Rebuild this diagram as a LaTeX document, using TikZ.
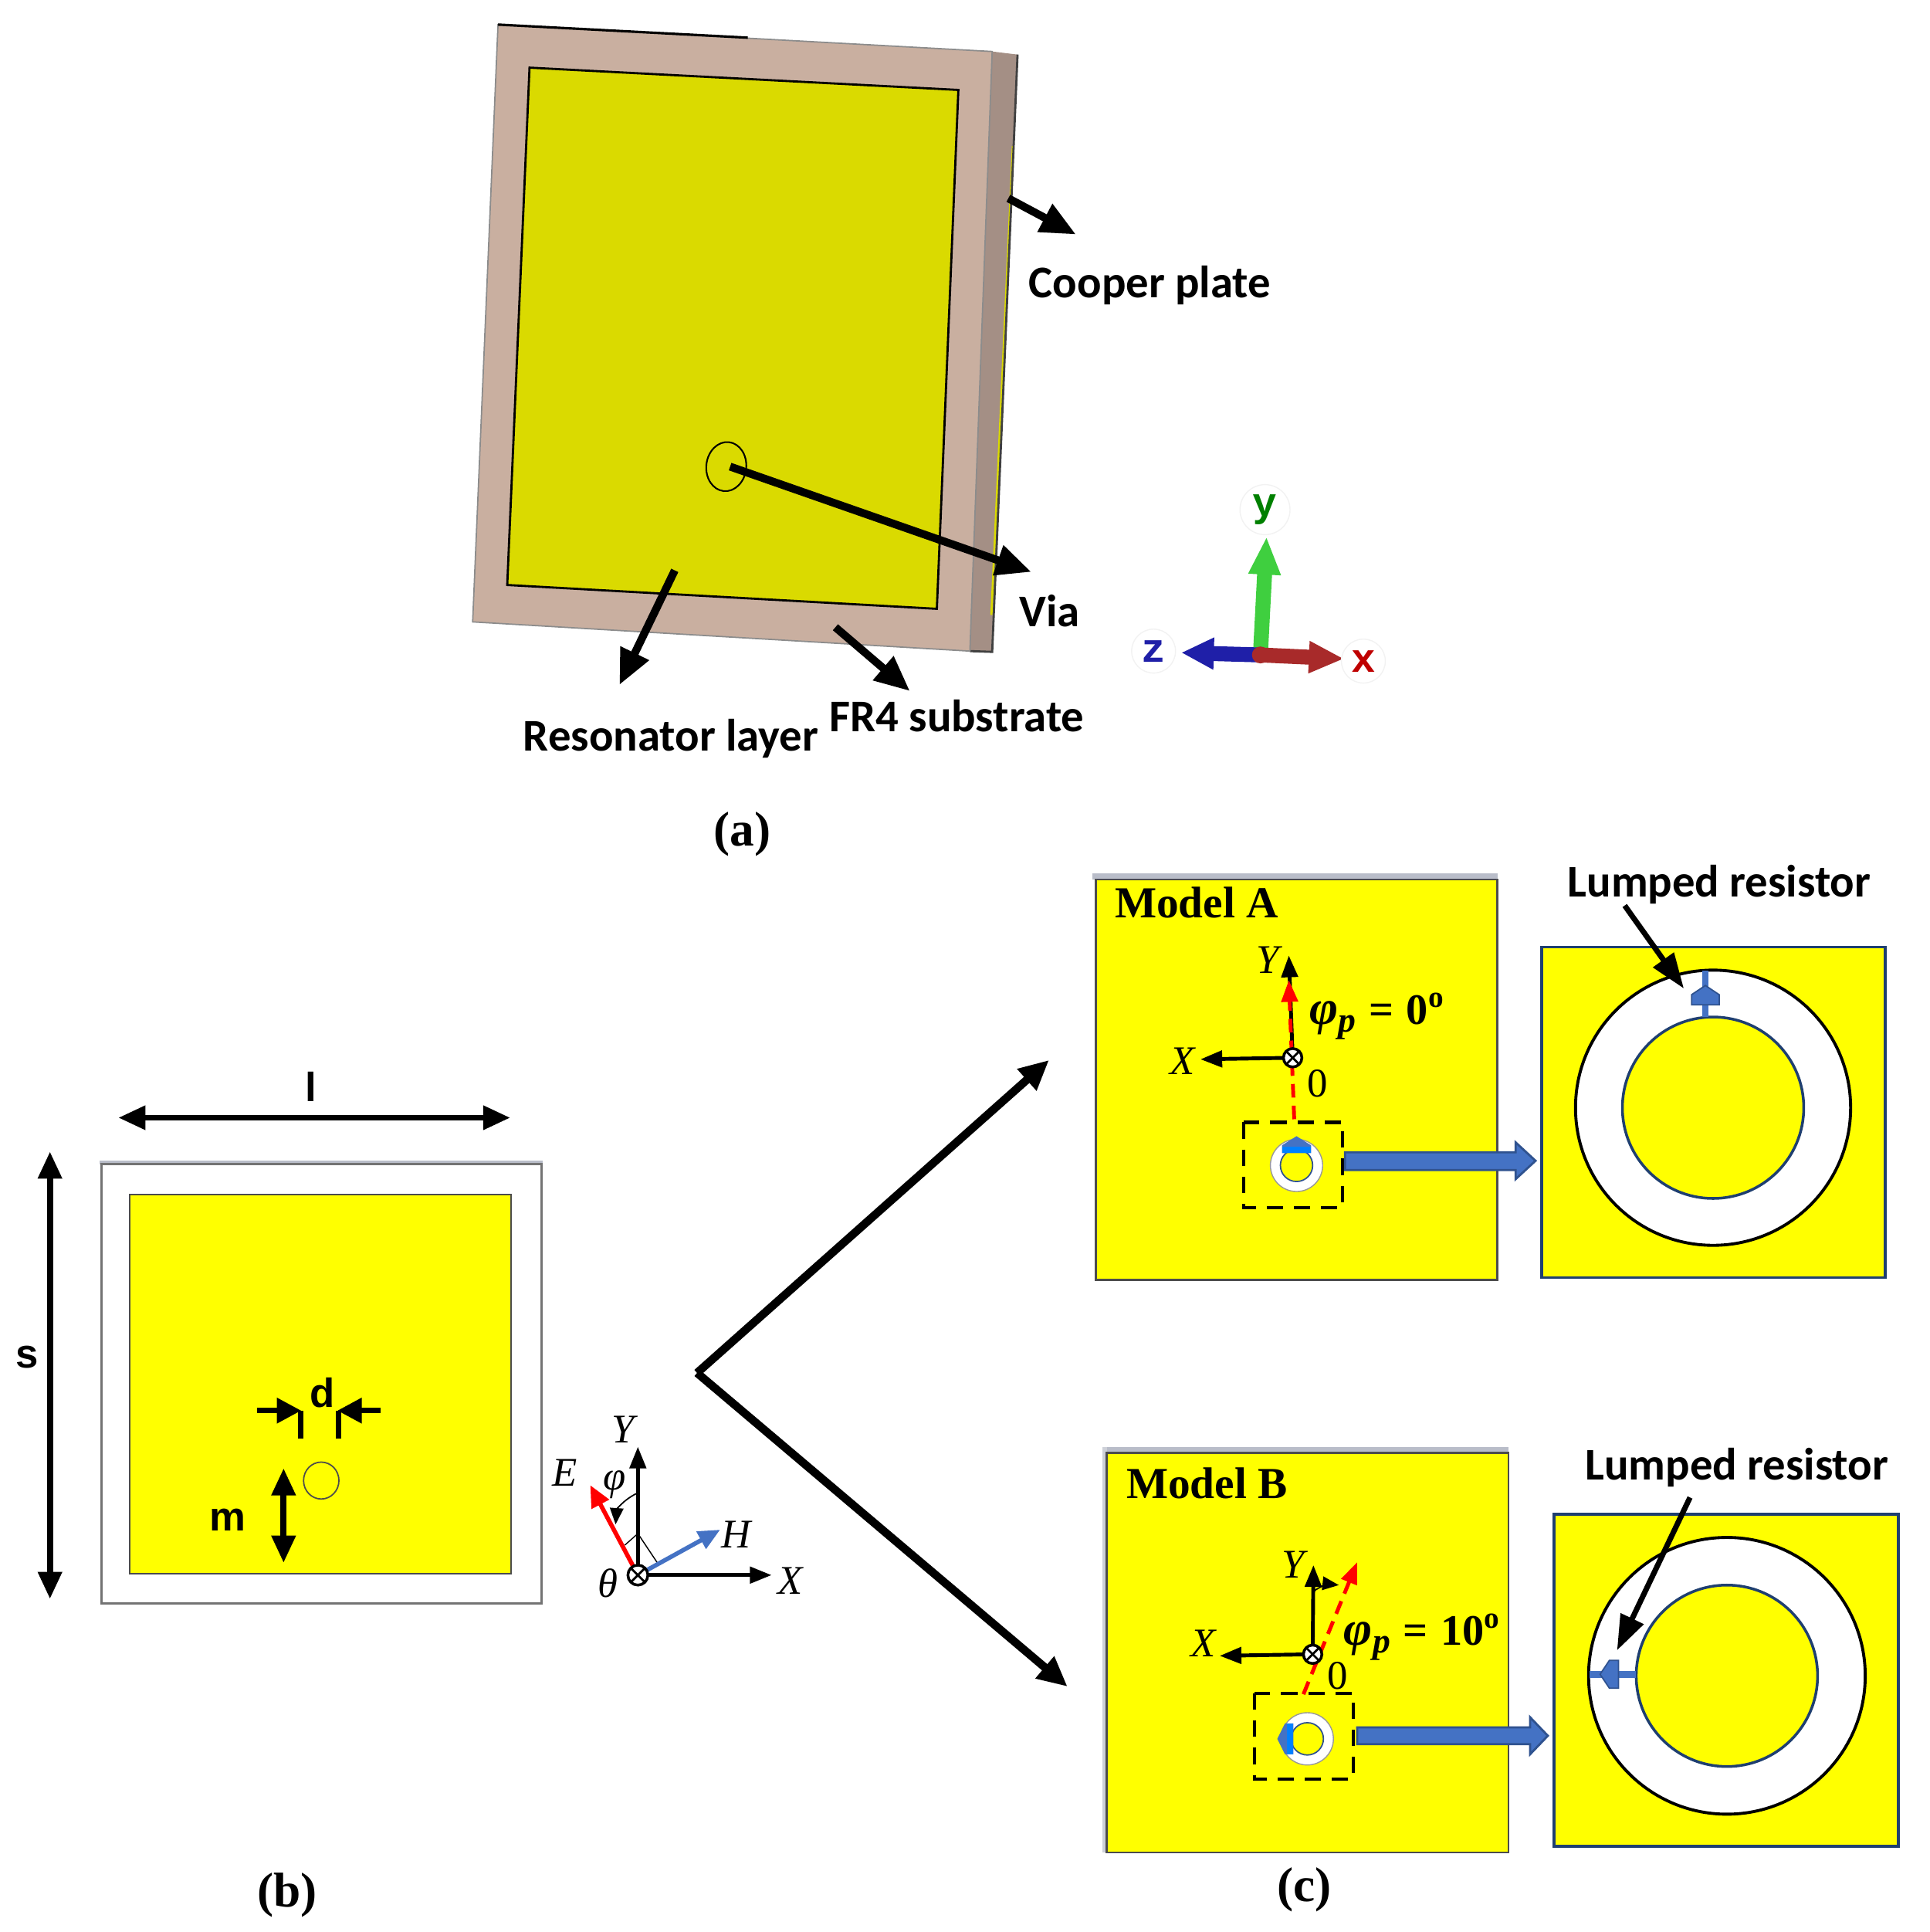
\documentclass[tikz,border=0pt]{standalone}
\usepackage{fontspec}
\setmainfont{Liberation Serif}
\newfontfamily\calibold{Carlito}[BoldFont=Carlito Bold]
\newfontfamily\arialbold{Liberation Sans}
\newfontfamily\slabbold{Liberation Mono}
\usetikzlibrary{arrows.meta,calc}
\definecolor{boardtan}{HTML}{C9AFA0}
\definecolor{boardside}{HTML}{A48F85}
\definecolor{boardyellow}{HTML}{DADA00}
\definecolor{resyellow}{HTML}{FFFF00}
\definecolor{lumpblue}{HTML}{4472C4}
\definecolor{lumpdark}{HTML}{2F528F}
\definecolor{navyline}{HTML}{1F3F70}
\definecolor{shadowgrey}{HTML}{B9BDC9}
\definecolor{axisgreen}{HTML}{3FCF3F}
\definecolor{axisblue}{HTML}{1F1FA8}
\definecolor{axisred}{HTML}{A82A2A}
\tikzset{
    callout/.style={line width=2.9pt,-{Triangle[length=13pt,width=11pt]}},
    branch/.style={line width=3pt,-{Triangle[length=11pt,width=10pt]}},
    dimen/.style={line width=2.2pt,{Triangle[length=10pt,width=8.5pt]}-{Triangle[length=10pt,width=8.5pt]}},
    axis/.style={line width=1.4pt,-{Triangle[length=8pt,width=6pt]}},
    triadleg/.style={line width=5.5pt},
    triadletter/.style={circle,inner sep=1.5pt,fill=white,draw=black!5,font=\slabbold\bfseries\fontsize{15}{17}\selectfont},
    tag/.style={inner sep=0pt,font=\calibold\bfseries\fontsize{16.7}{19}\selectfont},
    symb/.style={inner sep=0pt,font=\itshape\fontsize{15}{17}\selectfont},
    caption/.style={inner sep=0pt,font=\bfseries\fontsize{18}{20}\selectfont},
    modelname/.style={inner sep=0pt,font=\bfseries\fontsize{16.3}{19}\selectfont},
    sizelabel/.style={inner sep=0pt,font=\arialbold\bfseries\fontsize{15}{17}\selectfont},
    yellowbox/.style={draw=black!70,line width=0.7pt,fill=resyellow},
    zoombox/.style={draw=navyline,line width=1pt,fill=resyellow},
    blockarrow/.style={draw=lumpdark,line width=0.8pt,fill=lumpblue},
    pickbox/.style={draw=black,line width=1.2pt,dash pattern=on 6pt off 4pt},
    pol/.style={red,line width=1.4pt,dash pattern=on 5pt off 3pt}
}
\newcommand{\polangle}[1]{{\bfseries\itshape\fontsize{18}{18}\selectfont φ\raisebox{-0.35ex}{\fontsize{13}{13}\selectfont p}}\hspace{.3em}{\bfseries =\hspace{.3em}#1\textsuperscript{o}}}
\newcommand{\outofplane}[2]{%
    \draw[fill=white,line width=1pt] (#1) circle (#2);
    \draw[line width=0.8pt] ($(#1)+(-.7*#2,-.7*#2)$) -- ($(#1)+(.7*#2,.7*#2)$);
    \draw[line width=0.8pt] ($(#1)+(-.7*#2,.7*#2)$) -- ($(#1)+(.7*#2,-.7*#2)$);
}

\begin{document}
\begin{tikzpicture}[x=0.009955cm,y=-0.009955cm]
    \useasboundingbox (0,0) rectangle (2510.3,2513.3);

    % (a) the board
    \fill[boardside] (1291,67) -- (1324,71) -- (1291,848) -- (1262,847) -- cycle;
    \draw[boardyellow,line width=0.8pt] (1318,190) -- (1290,800);
    \draw[black!75,line width=0.8pt] (1324,71) -- (1291,848) -- (1262,847);
    \draw[fill=boardtan,draw=black!45,line width=0.5pt] (648,32) -- (1291,67) -- (1262,847) -- (615,809) -- cycle;
    \draw[black,line width=0.9pt] (648,32) -- (973,49);
    \draw[fill=boardyellow,draw=black,line width=0.8pt] (689,88) -- (1247,117) -- (1219,792) -- (660,761) -- cycle;
    \draw[black,line width=0.6pt,rotate around={-6:(945,607)}] (945,607) ellipse (26 and 32);

    \coordinate (viatail) at (950,607);
    \coordinate (viatip) at (1342,744);
    \coordinate (restail) at (878,742);
    \coordinate (restip) at (806,891);
    \coordinate (frtail) at (1087,816);
    \coordinate (frtip) at (1184,899);
    \coordinate (coptail) at (1312,258);
    \coordinate (coptip) at (1400,305);
    \draw[callout] (viatail) -- (viatip);
    \draw[callout] (restail) -- (restip);
    \draw[callout] (frtail) -- (frtip);
    \draw[callout] (coptail) -- (coptip);
    \node[tag] (cooper) at (1496,371) {Cooper plate};
    \node[tag] (vialabel) at (1366,795) {Via};
    \node[tag] (fr4) at (1245,931) {FR4 substrate};
    \node[tag] (reslayer) at (873,961) {Resonator layer};

    % CST axes
    \coordinate (triad) at (1640,852);
    \coordinate (triady) at (1648,698);
    \coordinate (triadz) at (1537,849);
    \coordinate (triadx) at (1749,857);
    \draw[axisgreen,triadleg,-{Triangle[length=14pt,width=11pt]}] (triad) -- (triady);
    \draw[axisblue,triadleg,-{Triangle[length=12pt,width=11pt]}] (triad) -- (triadz);
    \draw[axisred,triadleg,-{Triangle[length=13pt,width=11pt]}] (triad) -- (triadx);
    \fill[axisred] (1640,852) circle (11);
    \node[triadletter,text=green!50!black] (ylabel) at (1646,663) {y};
    \node[triadletter,text=axisblue] (zlabel) at (1501,847) {z};
    \node[triadletter,text=red!75!black] (xlabel) at (1774,860) {x};
    \node[caption] (capa) at (966,1085) {(a)};

    % (b) unit cell
    \fill[shadowgrey] (130,1510) rectangle (706,1515);
    \draw[draw=black!55,line width=0.8pt,fill=white] (132,1514) rectangle (705,2086);
    \draw[yellowbox] (169,1554) rectangle (665,2047);
    \draw[black!70,line width=0.5pt] (418,1926) ellipse (23 and 24);

    \coordinate (lleft) at (154,1454);
    \coordinate (lright) at (664,1454);
    \coordinate (stop) at (65,1498);
    \coordinate (sbottom) at (65,2080);
    \coordinate (mtop) at (369,1910);
    \coordinate (mbottom) at (369,2033);
    \draw[dimen] (lleft) -- (lright);
    \draw[dimen] (stop) -- (sbottom);
    \draw[dimen] (mtop) -- (mbottom);
    \node[sizelabel] (llabel) at (405,1414) {l};
    \node[sizelabel] (slabel) at (35,1765) {s};
    \node[sizelabel] (mlabel) at (296,1977) {m};
    \node[sizelabel] (dlabel) at (419,1812) {d};

    \coordinate (dleft) at (335,1835);
    \coordinate (dlefttip) at (392,1835);
    \coordinate (dright) at (495,1835);
    \coordinate (drighttip) at (439,1835);
    \draw[line width=2pt,-{Triangle[length=9pt,width=9pt]}] (dleft) -- (dlefttip);
    \draw[line width=2pt,-{Triangle[length=9pt,width=9pt]}] (dright) -- (drighttip);
    \draw[line width=2pt] (391,1835) -- (391,1871);
    \draw[line width=2pt] (440,1835) -- (440,1871);
    \node[caption] (capb) at (374,2465) {(b)};

    % field axes of (b)
    \coordinate (fieldo) at (830,2049);
    \coordinate (fieldy) at (830,1882);
    \coordinate (fieldx) at (1004,2049);
    \coordinate (fielde) at (768,1932);
    \coordinate (fieldh) at (937,1990);
    \draw[axis] (fieldo) -- (fieldy);
    \draw[axis] (fieldo) -- (fieldx);
    \draw[line width=0.4pt] (813,2010) -- (830,1995) -- (856,2034);
    \draw[red,line width=1.6pt,-{Triangle[length=8pt,width=7pt]}] (fieldo) -- (fielde);
    \draw[lumpblue,line width=1.6pt,-{Triangle[length=8pt,width=7pt]}] (fieldo) -- (fieldh);
    \draw[line width=0.5pt,-{Triangle[length=6pt,width=5pt]}] (828,1943) to[bend right=30] (801,1983);
    \outofplane{fieldo}{13}
    \node[symb] (fy) at (811,1860) {Y};
    \node[symb] (fe) at (735,1916) {E};
    \node[symb] (fphi) at (800,1931) {φ};
    \node[symb] (fh) at (958,1996) {H};
    \node[symb] (ftheta) at (791,2060) {θ};
    \node[symb] (fx) at (1028,2056) {X};

    % big branching arrows
    \coordinate (fork) at (907,1786);
    \coordinate (forka) at (1365,1379);
    \coordinate (forkb) at (1389,2194);
    \draw[branch] (fork) -- (forka);
    \draw[branch] (fork) -- (forkb);

    % (c) model A
    \fill[shadowgrey] (1421,1136) rectangle (1949,1144);
    \draw[yellowbox] (1426,1144) rectangle (1948,1665);
    \node[modelname,anchor=west] (modela) at (1450,1174) {Model A};
    \coordinate (aorigin) at (1682,1376);
    \coordinate (ay) at (1677,1243);
    \coordinate (ax) at (1562,1378);
    \coordinate (ared) at (1677,1275);
    \coordinate (abox) at (1684,1456);
    \draw[axis] (aorigin) -- (ay);
    \draw[axis] (aorigin) -- (ax);
    \draw[pol,-{Triangle[length=8pt,width=6pt]}] (abox) -- (ared);
    \outofplane{aorigin}{12}
    \node[symb] (ay label) at (1650,1249) {Y};
    \node[symb] (ax label) at (1539,1380) {X};
    \node[inner sep=0pt,font=\fontsize{15}{17}\selectfont] (azero) at (1714,1410) {0};
    \node[inner sep=0pt,font=\fontsize{16}{18}\selectfont] (aphi) at (1792,1322) {\polangle{0}};
    \draw[pickbox] (1618,1460) rectangle (1747,1571);
    \draw[fill=white,draw=black!40,line width=0.4pt] (1687,1516) circle (34);
    \draw[yellowbox,draw=lumpdark,line width=0.5pt] (1687,1516) circle (21);
    \fill[lumpblue] (1668,1500) -- (1668,1490) -- (1687,1478) -- (1706,1490) -- (1706,1500) -- cycle;
    \fill[blue!50!cyan] (1668,1492) rectangle (1706,1500);
    \draw[blockarrow] (1750,1499) -- (1972,1499) -- (1972,1486) -- (1998,1510) -- (1972,1534) -- (1972,1522) -- (1750,1522) -- cycle;

    \draw[zoombox] (2006,1232) rectangle (2453,1662);
    \draw[fill=white,draw=black,line width=1.1pt] (2229,1441) circle (179);
    \draw[yellowbox,draw=navyline,line width=1pt] (2229,1441) circle (118);
    \draw[lumpblue,line width=2.5pt] (2219,1263) -- (2219,1323);
    \draw[fill=lumpblue,draw=lumpdark,line width=0.5pt] (2201,1307) -- (2201,1294) -- (2219,1282) -- (2237,1294) -- (2237,1307) -- cycle;
    \coordinate (aresa) at (2114,1178);
    \coordinate (aresb) at (2191,1286);
    \draw[line width=2pt,-{Triangle[length=13pt,width=9pt]}] (aresa) -- (aresb);
    \node[tag] (lumpa) at (2237,1151) {Lumped resistor};

    % (c) model B
    \fill[shadowgrey] (1434,1882) rectangle (1963,1890);
    \fill[shadowgrey!70] (1434,1882) rectangle (1440,2410);
    \draw[yellowbox] (1440,1890) rectangle (1963,2410);
    \node[modelname,anchor=west] (modelb) at (1465,1930) {Model B};
    \coordinate (borigin) at (1708,2152);
    \coordinate (by) at (1709,2036);
    \coordinate (bx) at (1587,2154);
    \coordinate (bred) at (1766,2032);
    \coordinate (bbox) at (1696,2204);
    \draw[axis] (borigin) -- (by);
    \draw[axis] (borigin) -- (bx);
    \draw[pol,-{Triangle[length=8pt,width=6pt]}] (bbox) -- (bred);
    \draw[line width=0.5pt,-{Triangle[length=6pt,width=5pt]}] (1709,2070) to[bend left=20] (1742,2062);
    \outofplane{borigin}{12}
    \node[symb] (by label) at (1683,2035) {Y};
    \node[symb] (bx label) at (1566,2138) {X};
    \node[inner sep=0pt,font=\fontsize{15}{17}\selectfont] (bzero) at (1740,2180) {0};
    \node[inner sep=0pt,font=\fontsize{16}{18}\selectfont] (bphi) at (1851,2130) {\polangle{10}};
    \draw[pickbox] (1632,2203) rectangle (1761,2314);
    \draw[fill=white,draw=black!40,line width=0.4pt] (1701,2262) circle (34);
    \draw[yellowbox,draw=lumpdark,line width=0.5pt] (1701,2262) circle (21);
    \fill[lumpblue] (1683,2242) -- (1672,2242) -- (1662,2262) -- (1672,2282) -- (1683,2282) -- cycle;
    \fill[blue!50!cyan] (1675,2242) rectangle (1683,2282);
    \draw[blockarrow] (1766,2247) -- (1991,2247) -- (1991,2234) -- (2014,2258) -- (1991,2282) -- (1991,2269) -- (1766,2269) -- cycle;

    \draw[zoombox] (2022,1970) rectangle (2470,2402);
    \draw[fill=white,draw=black,line width=1.1pt] (2247,2180) circle (180);
    \draw[yellowbox,draw=navyline,line width=1pt] (2247,2180) circle (118);
    \draw[lumpblue,line width=2.5pt] (2068,2178) -- (2129,2178);
    \draw[fill=lumpblue,draw=lumpdark,line width=0.5pt] (2106,2160) -- (2094,2160) -- (2082,2178) -- (2094,2196) -- (2106,2196) -- cycle;
    \coordinate (bresa) at (2199,1948);
    \coordinate (bresb) at (2104,2147);
    \draw[line width=2pt,-{Triangle[length=13pt,width=9pt]}] (bresa) -- (bresb);
    \node[tag] (lumpb) at (2260,1909) {Lumped resistor};
    \node[caption] (capc) at (1697,2458) {(c)};
\end{tikzpicture}
\end{document}
